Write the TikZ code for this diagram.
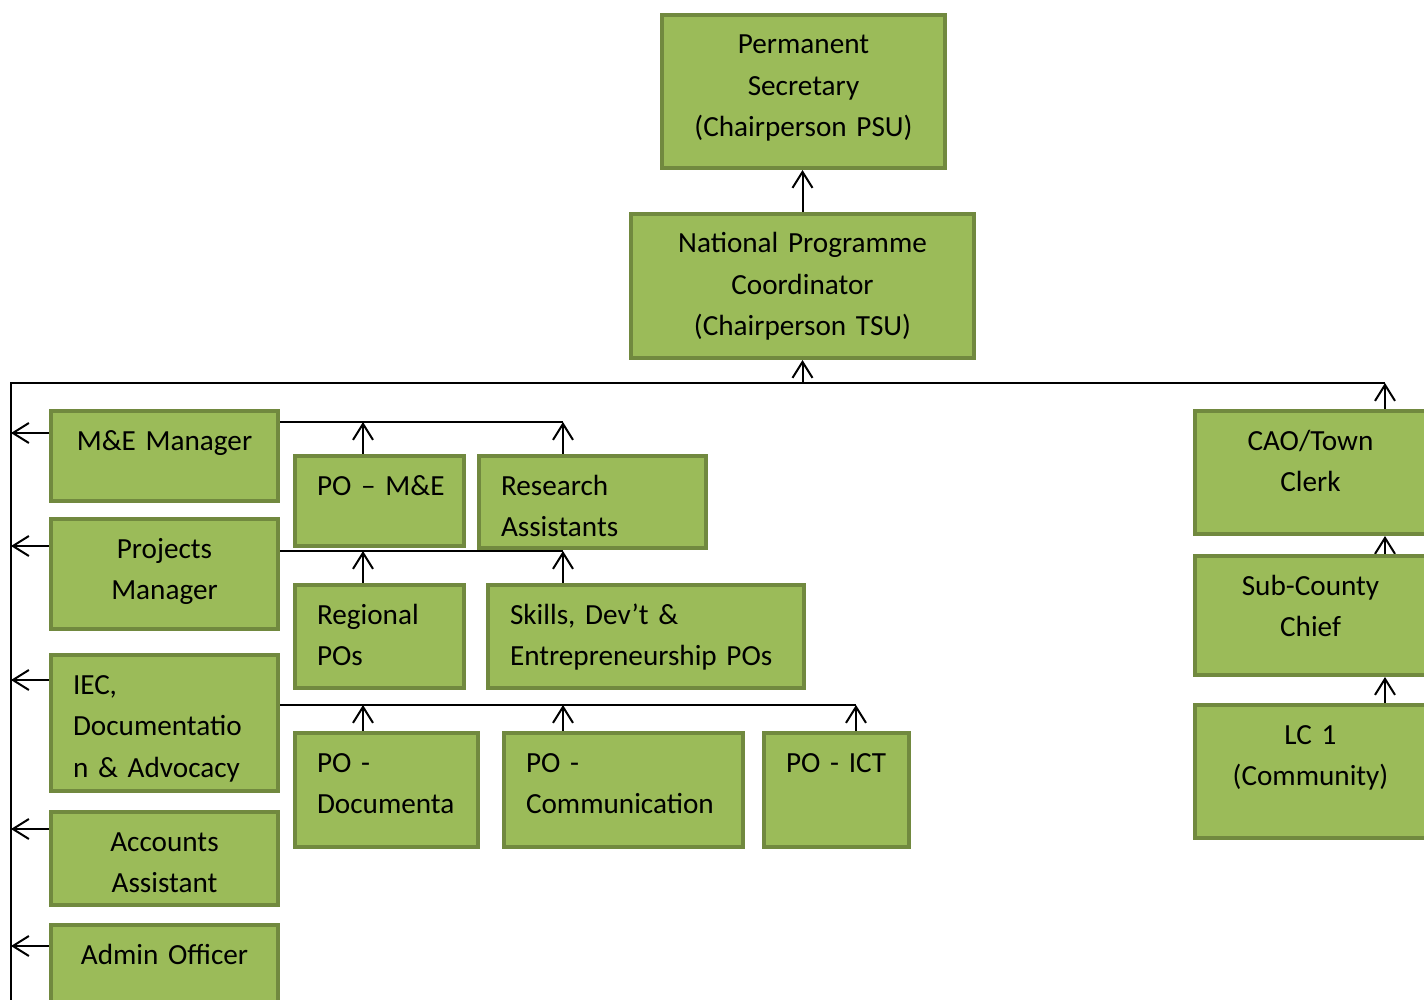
\documentclass[tikz,border=0pt]{standalone}
\usepackage{fontspec}
\setmainfont{Carlito}
\usepackage{xcolor}
\usepackage{tikz}
\usetikzlibrary{arrows, arrows.meta, positioning}
\pgfdeclarelayer{bg}
\pgfsetlayers{bg,main}
\definecolor{boxfill}{HTML}{9BBB59}
\definecolor{boxline}{HTML}{71893F}

\begin{document}
\begin{tikzpicture}[x=0.5pt, y=-0.5pt,
	box/.style={draw=boxline, fill=boxfill, line width=2pt, anchor=north west, inner xsep=11pt, inner ysep=0pt, text height=19.5pt, font=\fontsize{14.6pt}{20.75pt}\selectfont},
	mid/.style={box, align=center},
	lft/.style={box, align=left},
	barb/.style={-{Straight Barb[length=8pt, width=10pt]}, line width=1pt}]
				\clip (0,0) rectangle (1424,1000);
				% top
				\node[mid, text width=119.5pt, text depth=57pt]   (nodePS)    at (660,13)  {Permanent\\Secretary\\(Chairperson PSU)};
				\node[mid, text width=149.5pt, text depth=52.5pt] (nodeNPC)   at (629,212) {National Programme\\Coordinator\\(Chairperson TSU)};
				% left column
				\node[mid, text width=91.5pt, text depth=25.5pt]  (nodeME)    at (49,409)  {M\&E~Manager};
				\node[mid, text width=91.5pt, text depth=35.5pt]  (nodePM)    at (49,517)  {Projects\\Manager};
				\node[lft, text width=91.5pt, text depth=48.5pt]  (nodeIEC)   at (49,653)  {IEC,\\Documentatio\\n \& Advocacy};
				\node[mid, text width=91.5pt, text depth=27pt]    (nodeAcc)   at (49,810)  {Accounts\\Assistant};
				\node[mid, text width=91.5pt, text depth=25.5pt]  (nodeAdm)   at (49,923)  {Admin~Officer};
				% officers
				\node[lft, text width=62.5pt, text depth=25.5pt]  (nodePOME)  at (293,454) {\mbox{PO -- M\&E}};
				\node[lft, text width=91.5pt, text depth=26.5pt]  (nodeRA)    at (477,454) {Research\\Assistants};
				\node[lft, text width=62.5pt, text depth=32pt]    (nodeReg)   at (293,583) {Regional\\POs};
				\node[lft, text width=136pt, text depth=32pt]     (nodeSkill) at (486,583) {Skills, Dev’t \&\\Entrepreneurship~POs};
				\node[lft, text width=69.5pt, text depth=37.5pt]  (nodePODoc) at (293,731) {PO -\\Documenta};
				\node[lft, text width=97.5pt, text depth=37.5pt]  (nodePOCom) at (502,731) {PO -\\Communication};
				\node[lft, text width=50.5pt, text depth=37.5pt]  (nodePOICT) at (762,731) {\mbox{PO - ICT}};
				% right column
				\node[mid, text width=93.5pt, text depth=42pt]    (nodeCAO)   at (1193,409) {CAO/Town\\Clerk};
				\node[mid, text width=93.5pt, text depth=40pt]    (nodeSCC)   at (1193,554) {Sub-County\\Chief};
				\node[mid, text width=93.5pt, text depth=47pt]    (nodeLC)    at (1193,703) {LC 1\\(Community)};
				\begin{pgfonlayer}{bg}
				\coordinate (busL) at (11,383);
				\coordinate (busR) at (1385,383);
				\coordinate (busB) at (11,1010);
				\coordinate (rowME) at (563,422);
				\coordinate (rowPM) at (563,551);
				\coordinate (rowIEC) at (856,705);
				\coordinate (colA) at (363,0);
				\draw[barb] (nodeNPC.north) -- (nodeNPC.north |- nodePS.south);
				\draw[line width=1pt] (busR) -- (busL) -- (busB);
				\draw[barb] (nodeNPC.south |- busL) -- (nodeNPC.south);
				\draw[barb] (nodeCAO.north -| busR) -- (busR);
				\draw[barb] (nodeSCC.north -| busR) -- (nodeCAO.south -| busR);
				\draw[barb] (nodeLC.north -| busR) -- (nodeSCC.south -| busR);
				\foreach \n/\dy in {ME/12,PM/14.5,IEC/13.5,Acc/9.5,Adm/11.5}
					\draw[barb] ([yshift=-\dy pt]node\n.north west) coordinate (lft\n) -- (lft\n -| busL);
				\draw[line width=1pt] (nodeME.east |- rowME) -- (rowME);
				\draw[barb] (nodePOME.north -| colA) -- (colA |- rowME);
				\draw[barb] (nodeRA.north -| rowME) -- (rowME);
				\draw[line width=1pt] (nodePM.east |- rowPM) -- (rowPM);
				\draw[barb] (nodeReg.north -| colA) -- (colA |- rowPM);
				\draw[barb] (nodeSkill.north -| rowPM) -- (rowPM);
				\draw[line width=1pt] (nodeIEC.east |- rowIEC) -- (rowIEC);
				\draw[barb] (nodePODoc.north -| colA) -- (colA |- rowIEC);
				\draw[barb] (nodePOCom.north -| rowME) -- (rowME |- rowIEC);
				\draw[barb] (nodePOICT.north -| rowIEC) -- (rowIEC);
				\end{pgfonlayer}
			\end{tikzpicture}
\end{document}
